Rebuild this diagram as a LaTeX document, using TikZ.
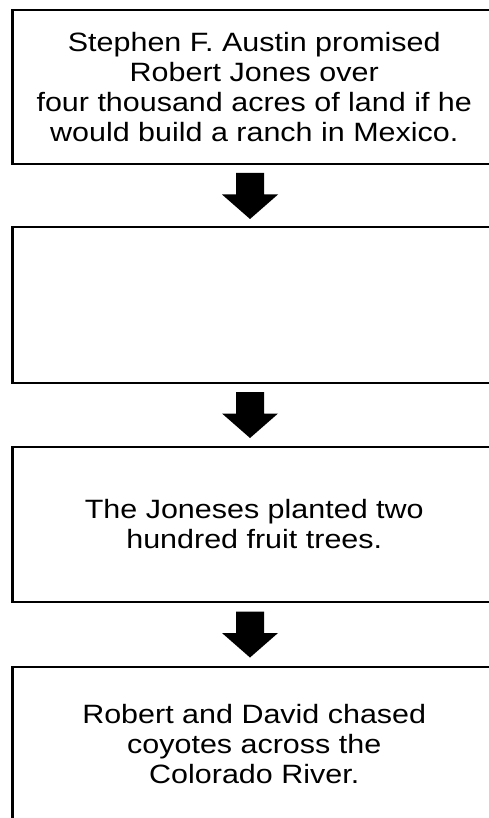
\documentclass[tikz,border=0pt]{standalone}
\usepackage{fontspec}
\setmainfont[FakeStretch=1.15]{Liberation Sans}
\begin{document}
\begin{tikzpicture}[x=1pt,y=-1pt,
  stepbox/.style={draw=black,line width=2.6pt,rectangle,minimum width=483.5pt,inner sep=0pt,
    align=center,font=\fontsize{26.5}{30}\selectfont},
  blockarrow/.style={fill=black,draw=none}]
\useasboundingbox (0,0) rectangle (489,818);
\clip (0,0) rectangle (489,818);
\node[stepbox,minimum height=154pt] (b1) at (254.25,87) {Stephen F. Austin promised\\Robert Jones over\\four thousand acres of land if he\\would build a ranch in Mexico.};
\node[stepbox,minimum height=156pt] (b2) at (254.25,305) {};
\node[stepbox,minimum height=155pt] (b3) at (254.25,524.5) {The Joneses planted two\\hundred fruit trees.};
\node[stepbox,minimum height=155pt] (b4) at (254.25,744.5) {Robert and David chased\\coyotes across the\\Colorado River.};
\coordinate (m1) at (250,196);
\coordinate (m2) at (250,415);
\coordinate (m3) at (250,634.5);
\foreach \m in {m1,m2,m3}{
  \fill[blockarrow] ([shift={(-14,-23)}]\m) -- ([shift={(14,-23)}]\m) -- ([shift={(14,-1.5)}]\m)
    -- ([shift={(28,-1.5)}]\m) -- ([shift={(0,23)}]\m) -- ([shift={(-28,-1.5)}]\m)
    -- ([shift={(-14,-1.5)}]\m) -- cycle;
}
\end{tikzpicture}
\end{document}
